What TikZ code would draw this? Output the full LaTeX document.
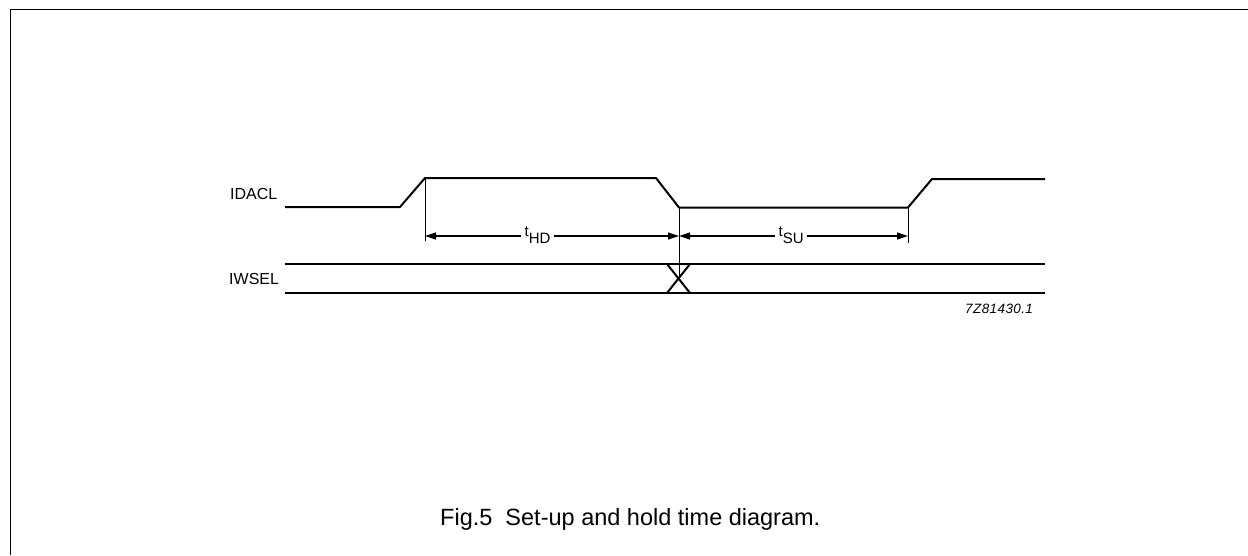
\documentclass[tikz,border=0pt]{standalone}
\usepackage{fontspec}
\setmainfont{Liberation Sans}
\usetikzlibrary{arrows.meta}
\begin{document}
\begin{tikzpicture}[x=1pt,y=-1pt,
  sig/.style={line width=2pt},
  dim/.style={line width=1pt},
  meas/.style={line width=1.2pt,{Triangle[length=11pt,width=7pt]}-{Triangle[length=11pt,width=7pt]}},
  sigl/.style={font=\fontsize{16}{18}\selectfont, inner sep=0pt, anchor=west},
  tlbl/.style={font=\fontsize{15}{17}\selectfont, fill=white, inner xsep=3.5pt, inner ysep=0pt, anchor=base west},
  frame/.style={line width=1.8pt}]
\useasboundingbox (0,0) rectangle (1248,555);
% frame
\coordinate (f0) at (10.5,555);
\coordinate (f1) at (10.5,9.5);
\coordinate (f2) at (1248,9.5);
\draw[frame] (f0) -- (f1) -- (f2);
% IDACL waveform
\coordinate (a0) at (285,207);
\coordinate (a1) at (400,207);
\coordinate (a2) at (425,178);
\coordinate (a3) at (656,178);
\coordinate (a4) at (679,207.5);
\coordinate (a5) at (908,207.5);
\coordinate (a6) at (932,179);
\coordinate (a7) at (1045,179);
\draw[sig] (a0) -- (a1) -- (a2) -- (a3) -- (a4) -- (a5) -- (a6) -- (a7);
% IWSEL lines
\coordinate (w0) at (285,264);
\coordinate (w1) at (1045,264);
\coordinate (w2) at (285,293);
\coordinate (w3) at (1045,293);
\draw[sig] (w0) -- (w1);
\draw[sig] (w2) -- (w3);
\coordinate (x1) at (667,264);
\coordinate (x2) at (690,264);
\coordinate (x3) at (667,293);
\coordinate (x4) at (690,293);
\draw[sig] (x1) -- (x4);
\draw[sig] (x2) -- (x3);
% vertical reference lines
\coordinate (v1) at (425,241);
\coordinate (v2) at (679,279);
\coordinate (v3) at (908,243);
\draw[dim] (a2) -- (v1);
\draw[dim] (a4) -- (v2);
\draw[dim] (a5) -- (v3);
% measurement arrows
\coordinate (h1) at (425,236);
\coordinate (h2) at (679,236);
\coordinate (h3) at (908,236);
\draw[meas] (h1) -- (h2);
\draw[meas] (h2) -- (h3);
\node[tlbl] (thd) at (521,236) {t\raisebox{-7pt}{HD}};
\node[tlbl] (tsu) at (775,236) {t\raisebox{-7pt}{SU}};
% signal labels
\node[sigl] (idacl) at (230,194) {IDACL};
\node[sigl] (iwsel) at (229,279) {IWSEL};
% code
\node[font=\fontsize{13.5}{16}\selectfont\itshape, inner sep=0pt, anchor=base west] (code) at (965,313) {\addfontfeatures{LetterSpace=3}7Z81430.1};
% caption
\node[font=\fontsize{23.5}{26}\selectfont, inner sep=0pt, anchor=base west] (cap) at (440,525) {Fig.5\ \ Set-up and hold time diagram.};
\end{tikzpicture}
\end{document}
